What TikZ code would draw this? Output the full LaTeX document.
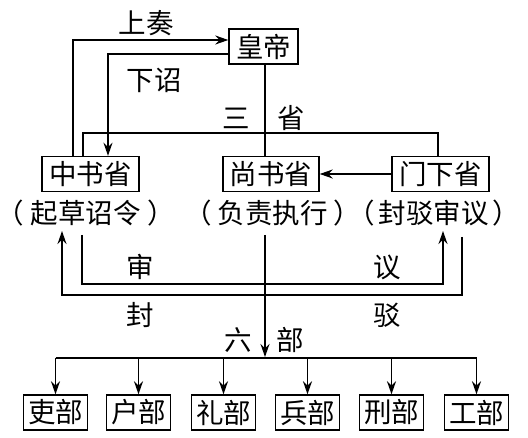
\documentclass[tikz,border=0pt]{standalone}
\usepackage{fontspec}
\setmainfont{Noto Sans CJK SC}
\usetikzlibrary{arrows.meta}
\begin{document}
\begin{tikzpicture}[x=1pt,y=-1pt,
 box/.style={draw,line width=1.4pt,inner sep=0pt,minimum height=35pt,font=\fontsize{27.5}{27.5}\selectfont},
 lab/.style={inner sep=0pt,font=\fontsize{27.5}{27.5}\selectfont},
 ln/.style={line width=1.4pt},
 arr/.style={ln,-{Stealth[length=13pt,width=9pt]}}]
\useasboundingbox (0,0) rectangle (528,438);
% boxes
\node[box,minimum width=69pt] (hd) at (263.5,46.5) {皇帝};
\node[box,minimum width=97pt] (zs) at (90.5,174) {中书省};
\node[box,minimum width=96pt] (ss) at (271,174) {尚书省};
\node[box,minimum width=97pt] (mx) at (440.5,174) {门下省};
\node[lab] (zsl) at (86,213) {（\hspace{7pt}起草诏令\hspace{7pt}）};
\node[lab] (ssl) at (273,213) {（\hspace{6pt}负责执行\hspace{6pt}）};
\node[lab] (mxl) at (434,213) {（\hspace{4pt}封驳审议\hspace{4pt}）};
% labels
\node[lab] (lsz) at (146,23) {上奏};
\node[lab] (lxz) at (154,80) {下诏};
\node[lab] (lsan) at (236,118) {三};
\node[lab] (lsheng) at (291,118) {省};
\node[lab] (lshen) at (140,267) {审};
\node[lab] (lyi) at (387,267) {议};
\node[lab] (lfeng) at (140,315) {封};
\node[lab] (lbo) at (387,315) {驳};
\node[lab] (lliu) at (238,340) {六};
\node[lab] (lbu) at (290,340) {部};
% six ministries
\foreach \n/\t/\x in {b1/吏部/55.5,b2/户部/138.5,b3/礼部/223.5,b4/兵部/307.5,b5/刑部/391.5,b6/工部/476.5}
  \node[box,minimum width=64pt] (\n) at (\x,412.5) {\t};
% coordinates
\coordinate (sz) at (73,40);
\coordinate (xz) at (108,54);
\coordinate (sA) at (83,133);
\coordinate (sB) at (438,133);
\coordinate (sC) at (265,133);
\coordinate (sy1) at (82,235);
\coordinate (sy2) at (82,284);
\coordinate (sy3) at (443,284);
\coordinate (sy4) at (443,231);
\coordinate (fb1) at (462,237);
\coordinate (fb2) at (462,295);
\coordinate (fb3) at (62,295);
\coordinate (fb4) at (62,231);
\coordinate (c1) at (265,235);
\coordinate (c2) at (265,357);
\coordinate (busL) at (55.5,358);
\coordinate (busR) at (476.5,358);
% connectors
\draw[arr] (zs.north -| sz) -- (sz) -- (hd.west |- sz);
\draw[arr] (hd.west |- xz) -- (xz) -- (zs.north -| xz);
\draw[ln] (hd.south -| sC) -- (ss.north -| sC);
\draw[ln] (zs.north -| sA) -- (sA) -- (sB) -- (mx.north -| sB);
\draw[arr] (mx.west) -- (ss.east);
\draw[arr] (sy1) -- (sy2) -- (sy3) -- (sy4);
\draw[arr] (fb1) -- (fb2) -- (fb3) -- (fb4);
\draw[arr] (c1) -- (c2);
\draw[ln] (busL) -- (busR);
\foreach \n in {b1,b2,b3,b4,b5,b6}
  \draw[arr] (busL -| \n) -- (\n.north);
\end{tikzpicture}
\end{document}
